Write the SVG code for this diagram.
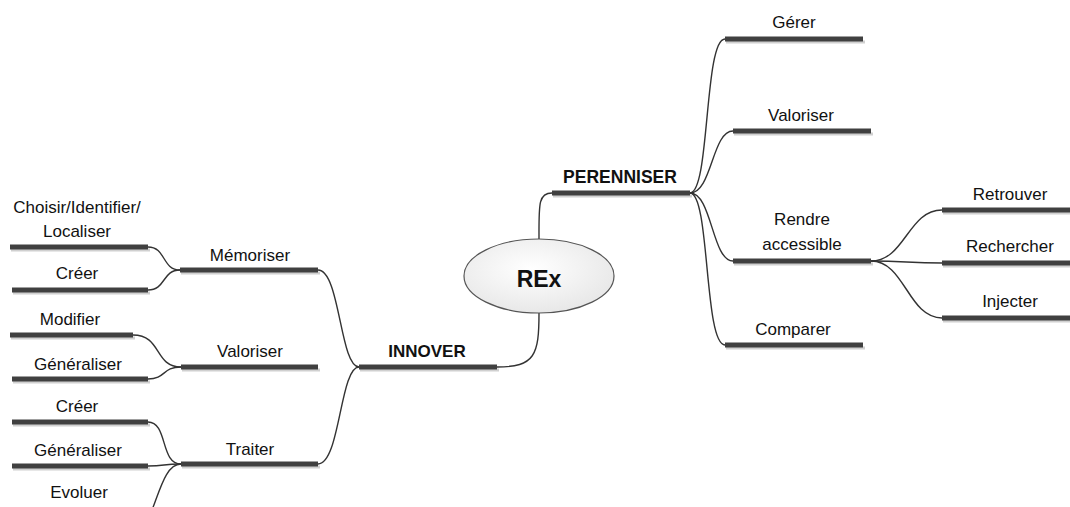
<svg xmlns="http://www.w3.org/2000/svg" width="1070" height="507" viewBox="0 0 1070 507">
<defs>
<style>
.bar{stroke:#404040;stroke-width:5;fill:none}
.sh{stroke:#d0d0d0;stroke-width:3;fill:none}
.c{stroke:#333;stroke-width:1.4;fill:none}
.t{font-family:"Liberation Sans",Arial,sans-serif;font-size:17px;fill:#111;text-anchor:middle}
.b{font-weight:bold}
</style>
<radialGradient id="g" cx="0.45" cy="0.4" r="0.7">
<stop offset="0" stop-color="#ffffff"/>
<stop offset="1" stop-color="#e4e4e4"/>
</radialGradient>
</defs>
<rect width="1070" height="507" fill="#fff"/>
<g id="connectors">
<path class="c" d="M539,239 C539,205 538,193 552,193"/>
<path class="c" d="M539,313 C539,355 535,367 497,367"/>
<path class="c" d="M690,193 C710,193 704,39 725,39"/>
<path class="c" d="M690,193 C712,193 712,131 733,131"/>
<path class="c" d="M690,193 C712,193 712,261 733,261"/>
<path class="c" d="M690,193 C710,193 704,345 725,345"/>
<path class="c" d="M871,261 C905,261 908,210 942,210"/>
<path class="c" d="M871,261 C905,261 908,263 942,263"/>
<path class="c" d="M871,261 C905,261 908,318 942,318"/>
<path class="c" d="M359,367 C340,367 340,270 318,270"/>
<path class="c" d="M359,367 C340,367 340,464 318,464"/>
<path class="c" d="M148,247 C166,247 162,270 180,270"/>
<path class="c" d="M148,290 C166,290 162,270 180,270"/>
<path class="c" d="M133,335 C162,335 154,367 181,367"/>
<path class="c" d="M148,379 C166,379 162,367 181,367"/>
<path class="c" d="M148,422 C168,422 160,464 181,464"/>
<path class="c" d="M148,466 C166,466 162,464 181,464"/>
<path class="c" d="M181,464 C166,464 160,490 152,510"/>
</g>
<g id="rex">
<ellipse cx="539" cy="276" rx="75" ry="37" fill="url(#g)" stroke="#555" stroke-width="1.2"/>
<text class="t b" x="539" y="287" style="font-size:23px">REx</text>
</g>
<g id="perenniser">
<line class="sh" x1="553" y1="196" x2="692" y2="196"/>
<line class="bar" x1="552" y1="193" x2="690" y2="193"/>
<text class="t b" x="620" y="183" style="font-size:17.5px">PERENNISER</text>
</g>
<g id="innover">
<line class="sh" x1="360" y1="370" x2="499" y2="370"/>
<line class="bar" x1="359" y1="367" x2="497" y2="367"/>
<text class="t b" x="427" y="357">INNOVER</text>
</g>
<g id="gerer">
<line class="sh" x1="726" y1="42" x2="865" y2="42"/>
<line class="bar" x1="725" y1="39" x2="863" y2="39"/>
<text class="t" x="794" y="28">Gérer</text>
</g>
<g id="valoriser-r">
<line class="sh" x1="734" y1="134" x2="873" y2="134"/>
<line class="bar" x1="733" y1="131" x2="871" y2="131"/>
<text class="t" x="801" y="121">Valoriser</text>
</g>
<g id="rendre">
<line class="sh" x1="734" y1="264" x2="873" y2="264"/>
<line class="bar" x1="733" y1="261" x2="871" y2="261"/>
<text class="t" x="802" y="225">Rendre</text>
<text class="t" x="802" y="250">accessible</text>
</g>
<g id="comparer">
<line class="sh" x1="726" y1="348" x2="865" y2="348"/>
<line class="bar" x1="725" y1="345" x2="863" y2="345"/>
<text class="t" x="793" y="335">Comparer</text>
</g>
<g id="retrouver">
<line class="sh" x1="943" y1="213" x2="1072" y2="213"/>
<line class="bar" x1="942" y1="210" x2="1070" y2="210"/>
<text class="t" x="1010" y="200">Retrouver</text>
</g>
<g id="rechercher">
<line class="sh" x1="943" y1="266" x2="1072" y2="266"/>
<line class="bar" x1="942" y1="263" x2="1070" y2="263"/>
<text class="t" x="1010" y="252">Rechercher</text>
</g>
<g id="injecter">
<line class="sh" x1="943" y1="321" x2="1072" y2="321"/>
<line class="bar" x1="942" y1="318" x2="1070" y2="318"/>
<text class="t" x="1010" y="307">Injecter</text>
</g>
<g id="memoriser">
<line class="sh" x1="181" y1="273" x2="320" y2="273"/>
<line class="bar" x1="180" y1="270" x2="318" y2="270"/>
<text class="t" x="250" y="261">Mémoriser</text>
</g>
<g id="choisir">
<line class="sh" x1="11" y1="250" x2="150" y2="250"/>
<line class="bar" x1="10" y1="247" x2="148" y2="247"/>
<text class="t" x="77" y="213">Choisir/Identifier/</text>
<text class="t" x="77" y="237">Localiser</text>
</g>
<g id="creer1">
<line class="sh" x1="13" y1="293" x2="150" y2="293"/>
<line class="bar" x1="12" y1="290" x2="148" y2="290"/>
<text class="t" x="77" y="279">Créer</text>
</g>
<g id="valoriser-l">
<line class="sh" x1="182" y1="370" x2="320" y2="370"/>
<line class="bar" x1="181" y1="367" x2="318" y2="367"/>
<text class="t" x="250" y="357">Valoriser</text>
</g>
<g id="modifier">
<line class="sh" x1="11" y1="338" x2="135" y2="338"/>
<line class="bar" x1="10" y1="335" x2="133" y2="335"/>
<text class="t" x="70" y="325">Modifier</text>
</g>
<g id="generaliser1">
<line class="sh" x1="13" y1="382" x2="150" y2="382"/>
<line class="bar" x1="12" y1="379" x2="148" y2="379"/>
<text class="t" x="78" y="370">Généraliser</text>
</g>
<g id="traiter">
<line class="sh" x1="182" y1="467" x2="320" y2="467"/>
<line class="bar" x1="181" y1="464" x2="318" y2="464"/>
<text class="t" x="250" y="455">Traiter</text>
</g>
<g id="creer2">
<line class="sh" x1="13" y1="425" x2="150" y2="425"/>
<line class="bar" x1="12" y1="422" x2="148" y2="422"/>
<text class="t" x="77" y="412">Créer</text>
</g>
<g id="generaliser2">
<line class="sh" x1="13" y1="469" x2="150" y2="469"/>
<line class="bar" x1="12" y1="466" x2="148" y2="466"/>
<text class="t" x="78" y="456">Généraliser</text>
</g>
<g id="evoluer">
<text class="t" x="79" y="498">Evoluer</text>
</g>
</svg>
